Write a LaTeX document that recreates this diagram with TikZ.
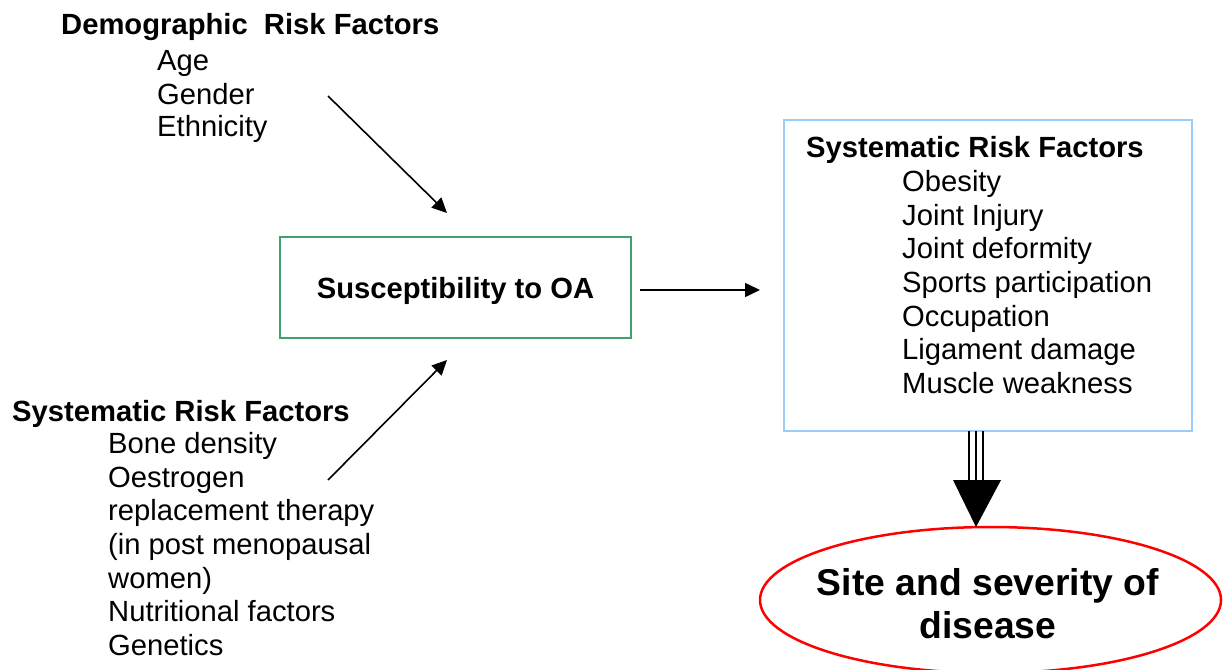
\documentclass[tikz,border=0pt]{standalone}
\usepackage{fontspec}
\setmainfont{Liberation Sans}
\usetikzlibrary{arrows.meta,shapes.geometric}
\definecolor{boxgreen}{RGB}{64,160,110}
\definecolor{boxblue}{RGB}{155,205,250}
\begin{document}
\begin{tikzpicture}[x=1pt,y=-1pt,
  txt/.style={font=\fontsize{29.2}{34}\selectfont, inner sep=0pt, anchor=base west},
  head/.style={txt, font=\fontsize{29.2}{34}\selectfont\bfseries},
  bigtxt/.style={font=\fontsize{37.3}{44}\selectfont\bfseries, inner sep=0pt, anchor=base},
  arr/.style={line width=1.6pt, -{Triangle[length=15pt,width=14pt]}},
  fatshaft/.style={line width=2.4pt}]
\useasboundingbox (0,0) rectangle (1228,669);

% demographic factors (top left)
\node[head] (dh) at (61,34.5) {Demographic\ \ Risk Factors};
\node[txt] (d1) at (157,70.5) {Age};
\node[txt] (d2) at (157,104) {Gender};
\node[txt] (d3) at (157,136.5) {Ethnicity};

% systemic factors (bottom left)
\node[head] (lh) at (12,421) {Systematic Risk Factors};
\node[txt] (l1) at (108,453.5) {Bone density};
\node[txt] (l2) at (108,487) {Oestrogen};
\node[txt] (l3) at (108,520.5) {replacement therapy};
\node[txt] (l4) at (108,554.5) {(in post menopausal};
\node[txt] (l5) at (108,588) {women)};
\node[txt] (l6) at (108,621.5) {Nutritional factors};
\node[txt] (l7) at (108,655) {Genetics};

% central box
\node[draw=boxgreen, line width=2.5pt, minimum width=351pt, minimum height=101pt, inner sep=0pt] (sus) at (455.5,287.5) {};
\node[bigtxt, font=\fontsize{29.2}{34}\selectfont\bfseries] (sust) at (455.5,298) {Susceptibility to OA};

% local factors box (right)
\node[draw=boxblue, line width=2pt, minimum width=408pt, minimum height=311pt, inner sep=0pt] (sys) at (988,275.5) {};
\node[head] (rh) at (806,157) {Systematic Risk Factors};
\node[txt] (r1) at (902,191) {Obesity};
\node[txt] (r2) at (902,225) {Joint Injury};
\node[txt] (r3) at (902,258) {Joint deformity};
\node[txt] (r4) at (902,292) {Sports participation};
\node[txt] (r5) at (902,326) {Occupation};
\node[txt] (r6) at (902,359) {Ligament damage};
\node[txt] (r7) at (902,393) {Muscle weakness};

% outcome ellipse
\node[ellipse, draw=red, line width=2.5pt, minimum width=461pt, minimum height=146pt, inner sep=0pt] (site) at (990.5,600) {};
\node[bigtxt] (s1) at (988,595) {Site and severity of};
\node[bigtxt] (s2) at (988,638) {disease};

% connectors
\coordinate (a1s) at (328,96);
\coordinate (a1e) at (447,213);
\coordinate (a2s) at (328,480);
\coordinate (a2e) at (447,360);
\coordinate (a3s) at (640,290);
\coordinate (a3e) at (760,290);
\draw[arr] (a1s) -- (a1e);
\draw[arr] (a2s) -- (a2e);
\draw[arr] (a3s) -- (a3e);

% triple-shafted arrow into the ellipse
\coordinate (bt) at (976,431);
\coordinate (bl) at (953,480);
\coordinate (br) at (1001,480);
\coordinate (tip) at (976,527);
\foreach \dx in {-7,0,7}
  \draw[fatshaft] ([xshift=\dx pt]bt) -- ([xshift=\dx pt]bt |- bl);
\fill (bl) -- (br) -- (tip) -- cycle;
\end{tikzpicture}
\end{document}
